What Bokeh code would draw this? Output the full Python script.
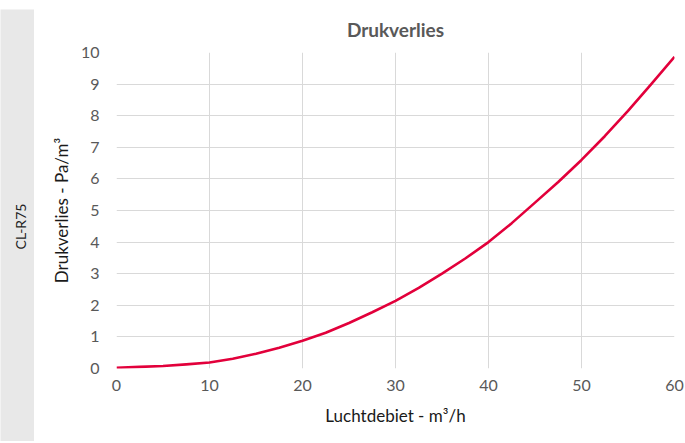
import numpy as np
from bokeh.plotting import figure
from bokeh.layouts import row, column
from bokeh.models import Range1d, ColumnDataSource, Spacer
from bokeh.core.properties import value
from bokeh.embed import file_html
from bokeh.resources import INLINE

# data
airflow = [0, 2.5, 5, 7.5, 10, 12.5, 15, 17.5, 20, 22.5, 25, 27.5, 30, 32.5, 35,
           37.5, 40, 42.5, 45, 47.5, 50, 52.5, 55, 57.5, 60]
pressure_drop = [0.02, 0.05, 0.08, 0.13, 0.19, 0.31, 0.47, 0.66, 0.875, 1.13, 1.44, 1.78,
                 2.14, 2.55, 3.0, 3.48, 4.0, 4.6, 5.25, 5.9, 6.6, 7.35, 8.15, 9.0, 9.86]
x_ticks = [0, 10, 20, 30, 40, 50, 60]
y_ticks = [0, 1, 2, 3, 4, 5, 6, 7, 8, 9, 10]
panel_label = "CL-R75"
title_text = "Drukverlies"
x_label = "Luchtdebiet - m³/h"
y_label = "Drukverlies - Pa/m³"

FONT = "Lato"
GRAY_PANEL = "#e8e8e8"
H = 441
PANEL_H = H - 9

# left gray panel
panel = figure(width=34, height=PANEL_H, x_range=Range1d(0, 34), y_range=Range1d(0, PANEL_H),
               output_backend="svg", toolbar_location=None,
               x_axis_type=None, y_axis_type=None, min_border=0)
panel.background_fill_color = GRAY_PANEL
panel.border_fill_color = GRAY_PANEL
panel.outline_line_color = None
panel.grid.visible = False
panel.text(x=[20], y=[215], text=[panel_label], angle=np.pi / 2,
           text_align="center", text_baseline="middle",
           text_font=value(FONT), text_font_size="14px", text_color="#1f1f1f")
left = column(Spacer(width=34, height=9), panel, spacing=0)

# main chart
p = figure(width=651, height=H, x_range=Range1d(0, 60), y_range=Range1d(0, 10),
           output_backend="svg", toolbar_location=None,
           min_border_left=82, min_border_right=11, min_border_top=52, min_border_bottom=73,
           title=title_text)
p.title.align = "center"
p.title.text_font = FONT
p.title.text_font_size = "19px"
p.title.text_font_style = "bold"
p.title.text_color = "#595959"
p.title.standoff = 24
p.outline_line_color = None
p.background_fill_color = "white"
p.border_fill_color = "white"

src = ColumnDataSource(dict(x=airflow, y=pressure_drop))
p.line("x", "y", source=src, line_color="#e2003b", line_width=2.6, line_join="round")

for ax in (p.xaxis[0], p.yaxis[0]):
    ax.axis_line_color = None
    ax.major_tick_line_color = None
    ax.minor_tick_line_color = None
    ax.major_label_text_font = FONT
    ax.major_label_text_font_size = "16px"
    ax.major_label_text_color = "#595959"
    ax.axis_label_text_font = FONT
    ax.axis_label_text_font_size = "17px"
    ax.axis_label_text_font_style = "normal"
    ax.axis_label_text_color = "#1a1a1a"

p.xaxis.ticker = x_ticks
p.yaxis.ticker = y_ticks
p.xaxis.axis_label = x_label
p.yaxis.axis_label = y_label
p.xaxis.major_label_standoff = 5
p.xaxis.axis_label_standoff = 11
p.yaxis.major_label_standoff = 11
p.yaxis.axis_label_standoff = 6

p.xgrid.grid_line_color = "#d9d9d9"
p.ygrid.grid_line_color = "#d9d9d9"
p.xgrid.grid_line_width = 1
p.ygrid.grid_line_width = 1

layout = row(left, p, spacing=0)
open("out.html", "w").write(file_html(layout, INLINE))
